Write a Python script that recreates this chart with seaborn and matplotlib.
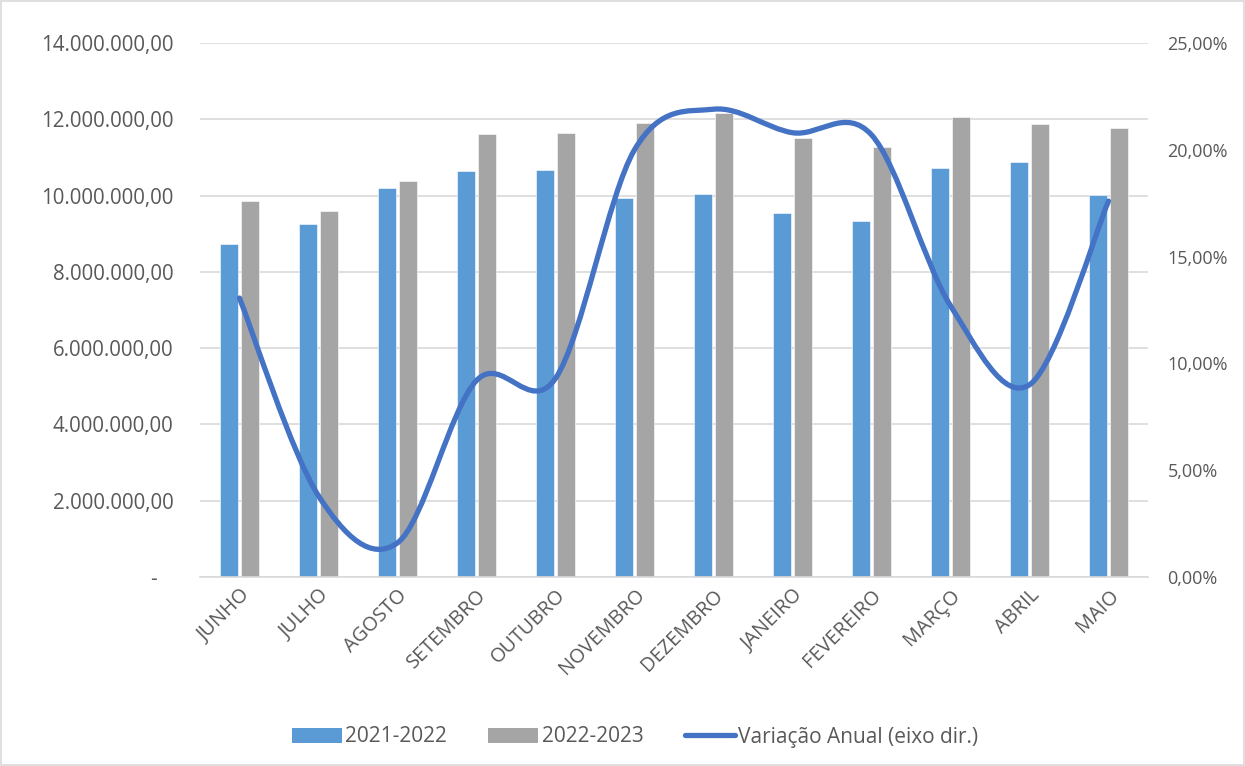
import numpy as np
import pandas as pd
import matplotlib
matplotlib.use("Agg")
import matplotlib.pyplot as plt
from matplotlib.path import Path
from matplotlib.patches import PathPatch, Patch
from matplotlib.lines import Line2D
from matplotlib.ticker import FuncFormatter, MultipleLocator
import seaborn as sns

months = ["JUNHO", "JULHO", "AGOSTO", "SETEMBRO", "OUTUBRO", "NOVEMBRO",
          "DEZEMBRO", "JANEIRO", "FEVEREIRO", "MARÇO", "ABRIL", "MAIO"]
v2122 = [8.73e6, 9.26e6, 10.20e6, 10.64e6, 10.66e6, 9.93e6,
         10.03e6, 9.53e6, 9.34e6, 10.73e6, 10.89e6, 10.02e6]
v2223 = [9.87e6, 9.60e6, 10.38e6, 11.61e6, 11.64e6, 11.89e6,
         12.17e6, 11.50e6, 11.27e6, 12.07e6, 11.88e6, 11.78e6]
variacao = [13.06, 3.8, 1.6, 9.2, 9.3, 20.0,
            21.9, 20.8, 20.7, 12.7, 9.0, 17.6]
series_names = ["2021-2022", "2022-2023"]
line_name = "Variação Anual (eixo dir.)"

c_blue = "#5B9BD5"
c_gray = "#A5A5A5"
c_line = "#4472C4"
txt = "#595959"
grid_c = "#D9D9D9"

sns.set_theme(style="white")
plt.rcParams["font.family"] = ["Open Sans", "DejaVu Sans"]

df = pd.DataFrame({
    "mes": months * 2,
    "valor": v2122 + v2223,
    "serie": [series_names[0]] * len(months) + [series_names[1]] * len(months),
})

fig = plt.figure(figsize=(12.45, 7.66), dpi=100)
ax = fig.add_axes([200 / 1245, 1 - 577 / 766, 948 / 1245, 534 / 766])

sns.barplot(data=df, x="mes", y="valor", hue="serie", order=months,
            hue_order=series_names, palette=[c_blue, c_gray], saturation=1,
            width=0.52, gap=0.13, ax=ax, legend=False,
            edgecolor="white", linewidth=0.4)

ax.set_ylim(0, 14e6)
ax.yaxis.set_major_locator(MultipleLocator(2e6))


def fmt_left(v, pos):
    if abs(v) < 1:
        return "-   "
    s = f"{v:,.2f}"
    return s.replace(",", "X").replace(".", ",").replace("X", ".")


ax.yaxis.set_major_formatter(FuncFormatter(fmt_left))
ax.set_xlim(-0.5, len(months) - 0.5)
ax.grid(axis="y", color=grid_c, linewidth=1.2)
ax.set_axisbelow(True)
for s in ["top", "right", "left"]:
    ax.spines[s].set_visible(False)
ax.spines["bottom"].set_color(grid_c)
ax.spines["bottom"].set_linewidth(1.2)
ax.set_xlabel("")
ax.set_ylabel("")
ax.tick_params(axis="y", labelsize=14.8, colors=txt, length=0, pad=19)
ax.tick_params(axis="x", labelsize=14.3, colors=txt, length=0, pad=6)
for lab in ax.get_xticklabels():
    lab.set_rotation(45)
    lab.set_ha("right")
    lab.set_rotation_mode("anchor")

ax2 = ax.twinx()
ax2.set_ylim(0, 25)
ax2.yaxis.set_major_locator(MultipleLocator(5))
ax2.yaxis.set_major_formatter(FuncFormatter(lambda v, p: f"{v:.2f}%".replace(".", ",")))
ax2.tick_params(axis="y", labelsize=13, colors=txt, length=0, pad=14)
for s in ["top", "right", "left", "bottom"]:
    ax2.spines[s].set_visible(False)

# smoothed line (Catmull-Rom -> cubic Bezier, in data coordinates)
xs = np.arange(len(months), dtype=float)
ys = np.asarray(variacao, dtype=float)
pts = np.column_stack([xs, ys])
ext = np.vstack([pts[0], pts, pts[-1]])
verts = [tuple(pts[0])]
codes = [Path.MOVETO]
for i in range(len(pts) - 1):
    p0, p1, p2, p3 = ext[i], ext[i + 1], ext[i + 2], ext[i + 3]
    c1 = p1 + (p2 - p0) / 6.0
    c2 = p2 - (p3 - p1) / 6.0
    verts += [tuple(c1), tuple(c2), tuple(p2)]
    codes += [Path.CURVE4] * 3
ax2.add_patch(PathPatch(Path(verts, codes), facecolor="none",
                        edgecolor=c_line, linewidth=3.8, capstyle="round"))

handles = [Patch(facecolor=c_blue, edgecolor="none"),
           Patch(facecolor=c_gray, edgecolor="none"),
           Line2D([0], [0], color=c_line, linewidth=3.8, solid_capstyle="round")]
labels = series_names + [line_name]
leg = fig.legend(handles, labels, loc="center", bbox_to_anchor=(0.51, 1 - 737 / 766),
                 ncol=3, frameon=False, fontsize=15, handlelength=2.4,
                 handletextpad=0.15, columnspacing=2.0)
for t in leg.get_texts():
    t.set_color(txt)

fig.patches.append(plt.Rectangle((0.001, 0.001), 0.998, 0.998, transform=fig.transFigure,
                                 fill=False, edgecolor="#D9D9D9", linewidth=1.2))

fig.savefig("out.png", dpi=100)
